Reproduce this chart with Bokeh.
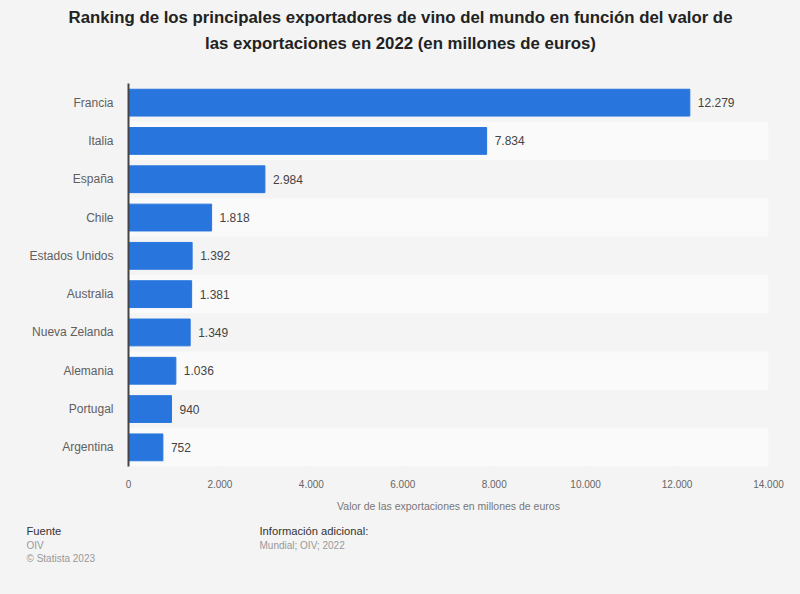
from bokeh.plotting import figure
from bokeh.layouts import column
from bokeh.models import (ColumnDataSource, FactorRange, Range1d, FixedTicker,
                          CustomJSTickFormatter)
from bokeh.core.properties import value
from bokeh.embed import file_html
from bokeh.resources import INLINE

countries = ["Francia", "Italia", "España", "Chile", "Estados Unidos",
             "Australia", "Nueva Zelanda", "Alemania", "Portugal", "Argentina"]
values = [12279, 7834, 2984, 1818, 1392, 1381, 1349, 1036, 940, 752]
value_labels = ["12.279", "7.834", "2.984", "1.818", "1.392",
                "1.381", "1.349", "1.036", "940", "752"]
x_ticks = [0, 2000, 4000, 6000, 8000, 10000, 12000, 14000]
x_max = 14000

title_lines = ["Ranking de los principales exportadores de vino del mundo en función del valor de",
               "las exportaciones en 2022 (en millones de euros)"]

FONT = "Liberation Sans"
BG = "#f4f4f4"
W = 800


def blank_fig(h):
    f = figure(width=W, height=h, output_backend="svg", toolbar_location=None,
               x_range=Range1d(0, W), y_range=Range1d(h, 0),
               x_axis_location=None, y_axis_location=None, min_border=0)
    f.frame_align = False
    f.background_fill_color = BG
    f.border_fill_color = BG
    f.outline_line_color = None
    f.xgrid.visible = False
    f.ygrid.visible = False
    return f


# ---- title ----
tf = blank_fig(70)
tf.text(x=[W / 2] * 2, y=[17, 43], text=title_lines, text_align="center",
        text_baseline="middle", text_font=value(FONT), text_font_size="16.8px",
        text_font_style="bold", text_color="#222222")

# ---- main chart ----
p = figure(width=W, height=450, output_backend="svg", toolbar_location=None,
           y_range=FactorRange(factors=list(reversed(countries)), range_padding=0),
           x_range=Range1d(0, x_max),
           min_border_left=128, min_border_right=32, min_border_top=13,
           min_border_bottom=54)
p.frame_align = False
p.background_fill_color = BG
p.border_fill_color = BG
p.outline_line_color = None

band_colors = ["#f4f4f4" if i % 2 == 0 else "#fafafa" for i in range(len(countries))]
band_src = ColumnDataSource(dict(y=countries, right=[x_max] * len(countries), c=band_colors))
p.hbar(y="y", left=0, right="right", height=1.0, source=band_src,
       fill_color="c", line_color=None)

p.xgrid.ticker = FixedTicker(ticks=x_ticks)
p.xgrid.grid_line_color = "#d6d6d6"
p.xgrid.grid_line_dash = "1 2"
p.xgrid.grid_line_width = 1
p.ygrid.grid_line_color = None

src = ColumnDataSource(dict(y=countries, v=values, lab=value_labels))
p.hbar(y="y", left=0, right="v", height=0.7, source=src,
       fill_color="#2876dd", line_color="#2876dd")
p.text(x="v", y="y", text="lab", source=src, x_offset=8,
       text_font_size="12px", text_color="#444444", text_baseline="middle",
       text_font=value(FONT))

p.xaxis.ticker = FixedTicker(ticks=x_ticks)
p.xaxis.formatter = CustomJSTickFormatter(
    code="return Math.round(tick).toString().replace(/\\B(?=(\\d{3})+(?!\\d))/g, '.');")
p.xaxis.axis_line_color = None
p.xaxis.major_tick_line_color = None
p.xaxis.minor_tick_line_color = None
p.xaxis.major_label_text_font = FONT
p.xaxis.major_label_text_font_size = "10px"
p.xaxis.major_label_text_color = "#666666"
p.xaxis.major_label_standoff = 7
p.xaxis.axis_label = "Valor de las exportaciones en millones de euros"
p.xaxis.axis_label_text_font = FONT
p.xaxis.axis_label_text_font_size = "10.5px"
p.xaxis.axis_label_text_font_style = "normal"
p.xaxis.axis_label_text_color = "#777777"
p.xaxis.axis_label_standoff = 9

p.yaxis.axis_line_color = "#444444"
p.yaxis.axis_line_width = 2
p.yaxis.major_tick_line_color = None
p.yaxis.minor_tick_line_color = None
p.yaxis.major_label_text_font = FONT
p.yaxis.major_label_text_font_size = "12px"
p.yaxis.major_label_text_color = "#606060"
p.yaxis.major_label_standoff = 9

# ---- footer ----
ff = blank_fig(74)
foot_x = [26, 26, 26, 259, 259]
foot_y = [10, 25, 38, 10, 25]
foot_text = ["Fuente", "OIV", "© Statista 2023", "Información adicional:", "Mundial; OIV; 2022"]
foot_color = ["#333333", "#999999", "#999999", "#333333", "#999999"]
foot_size = ["11.2px", "10px", "10px", "11.2px", "10px"]
ff.text(x=foot_x, y=foot_y, text=foot_text, text_color=foot_color,
        text_font_size=foot_size, text_align="left", text_baseline="middle",
        text_font=value(FONT))

layout = column(tf, p, ff, spacing=0)
html = file_html(layout, INLINE)
html = html.replace("</head>", "<style>html,body{background:#f4f4f4;}</style></head>", 1)
open("out.html", "w").write(html)
